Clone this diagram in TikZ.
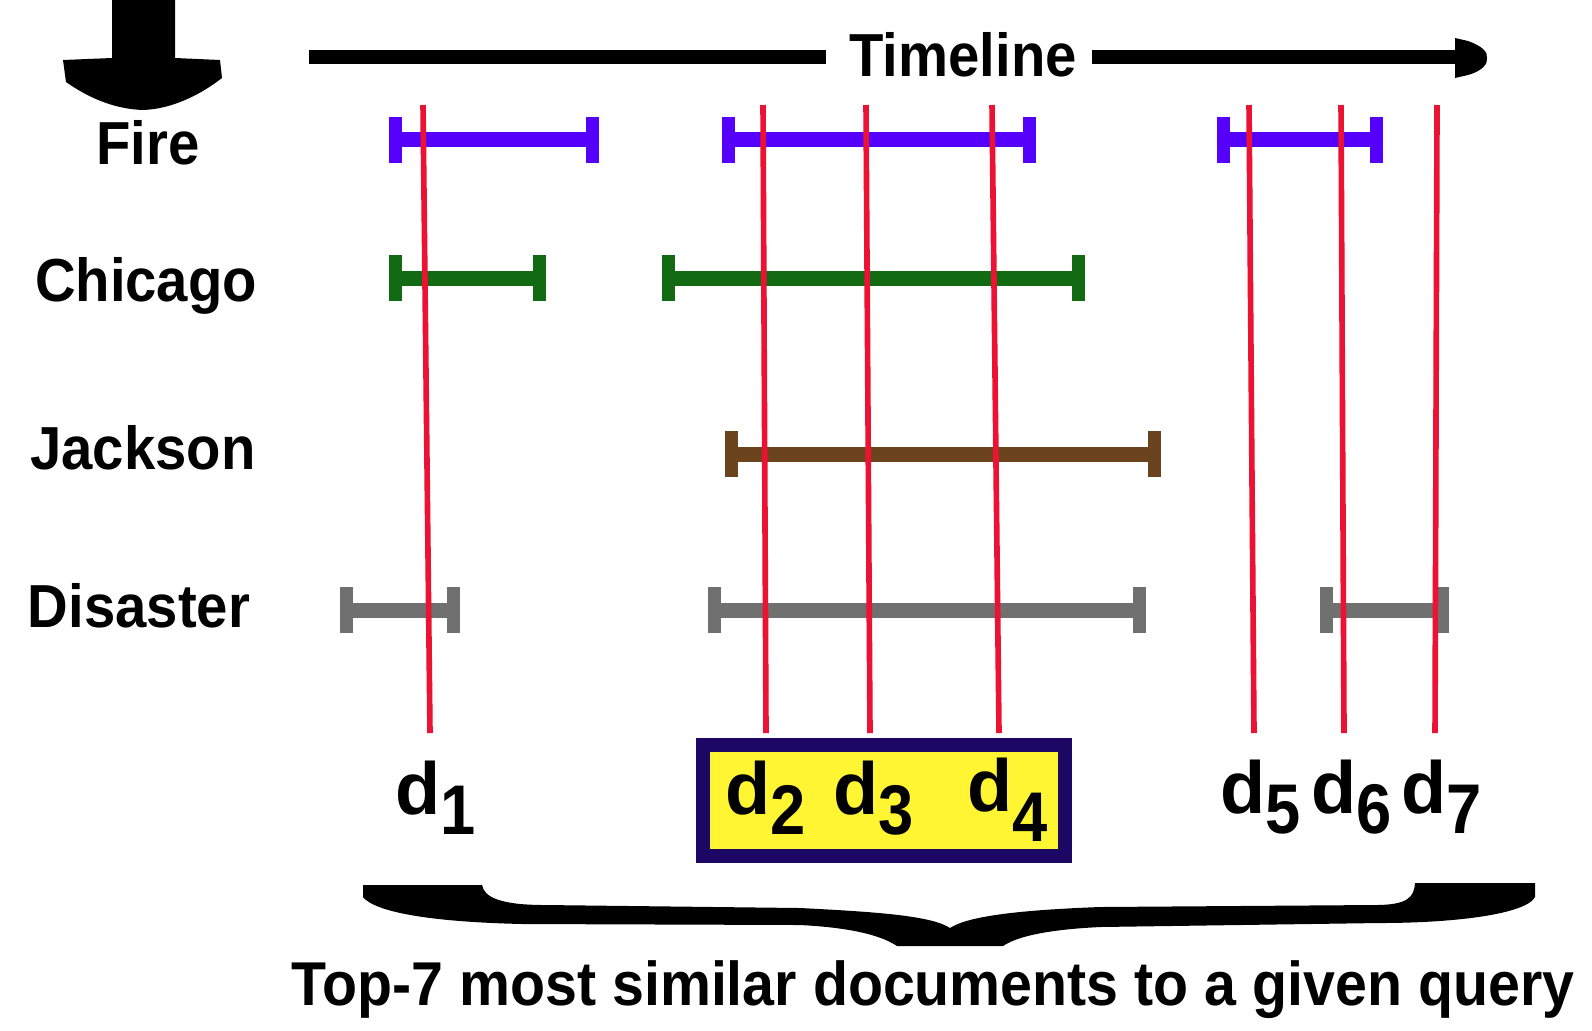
\documentclass[tikz,border=0pt]{standalone}
\usepackage{fontspec}
\setmainfont{Liberation Sans}
\definecolor{SpanBlue}{RGB}{85,0,250}
\definecolor{SpanGreen}{RGB}{18,106,18}
\definecolor{SpanBrown}{RGB}{107,68,30}
\definecolor{SpanGray}{RGB}{112,112,112}
\definecolor{DocRed}{RGB}{235,18,52}
\definecolor{BoxNavy}{RGB}{28,8,100}
\definecolor{BoxYellow}{RGB}{255,245,50}
% one time span: colour, left x, right x, row y
\newcommand{\tspan}[4]{%
  \fill[#1] (#2,#4-7.5) rectangle (#3,#4+7.5);
  \fill[#1] (#2,#4-23) rectangle (#2+13,#4+23);
  \fill[#1] (#3-13,#4-23) rectangle (#3,#4+23);}
\newcommand{\dsub}[2][5.8pt]{d\raisebox{-#1}{\fontsize{20}{20}\selectfont\scalebox{0.9}[1]{#2}}}
\newcommand{\tall}[1]{\scalebox{1}[1.08]{#1}}

\begin{document}
\begin{tikzpicture}[x=0.01cm,y=-0.01cm,font=\bfseries\fontsize{16}{19}\selectfont,
  rowlabel/.style={anchor=base,inner sep=0pt},
  doclabel/.style={anchor=base west,inner sep=0pt,font=\bfseries\fontsize{21}{24}\selectfont},
  docline/.style={DocRed,line width=1.6pt},
  axis/.style={line width=3.7pt},
  hitbox/.style={draw=BoxNavy,fill=BoxYellow,line width=3.98pt,minimum width=3.62cm,minimum height=1.11cm,inner sep=0pt}]
  \useasboundingbox (0,0) rectangle (1592,1030);

  % rank arrow
  \fill (112,0) -- (175,0) -- (175,58) -- (220,60) -- (222,78)
    .. controls (200,95) and (172,109) .. (143,110)
    .. controls (112,109) and (86,96) .. (66,82) -- (63,60) -- (112,58) -- cycle;

  % timeline
  \node[anchor=base] (timeline) at (963,76) {\tall{Timeline}};
  \coordinate (tl) at (309,57);
  \coordinate (tr) at (1458,57);
  \draw[axis] (tl) -- (826,57);
  \draw[axis] (1092,57) -- (tr);
  \fill (1455,38) -- (1468,41) .. controls (1482,46) and (1488,52) .. (1487,58)
    .. controls (1488,64) and (1482,71) .. (1468,75) -- (1455,78) -- cycle;

  \node[rowlabel] (fire) at (148,164.5) {\tall{Fire}};
  \node[rowlabel] (chicago) at (146,301.5) {\tall{Chicago}};
  \node[rowlabel] (jackson) at (143,469) {\tall{Jackson}};
  \node[rowlabel] (disaster) at (139,627) {\tall{Disaster}};

  \tspan{SpanBlue}{389}{599}{139.5}
  \tspan{SpanBlue}{722}{1036}{139.5}
  \tspan{SpanBlue}{1217}{1383}{139.5}
  \tspan{SpanGreen}{389}{546}{278}
  \tspan{SpanGreen}{662}{1085}{278}
  \tspan{SpanBrown}{725}{1161}{454}
  \tspan{SpanGray}{340}{460}{610}
  \tspan{SpanGray}{708}{1146}{610}
  \tspan{SpanGray}{1320}{1449}{610}

  \foreach \i/\xt/\xb in {1/423/430,2/763/766,3/866/870,4/992/999,5/1249/1254,6/1341/1344,7/1437/1435}{
    \coordinate (top\i) at (\xt,105);
    \coordinate (bot\i) at (\xb,733);
    \draw[docline] (top\i) -- (bot\i);
  }

  \node[hitbox] (top3) at (884,800.5) {};
  \node[doclabel] (d1) at (395,814) {\dsub{1}};
  \node[doclabel] (d2) at (725,814) {\dsub{2}};
  \node[doclabel] (d3) at (833,814) {\dsub{3}};
  \node[doclabel] (d4) at (967,811) {\dsub[8.8pt]{4}};
  \node[doclabel] (d5) at (1220,813) {\dsub{5}};
  \node[doclabel] (d6) at (1311,813) {\dsub{6}};
  \node[doclabel] (d7) at (1401,813) {\dsub{7}};

  % brace under the documents
  \fill (363,885) -- (482,885) .. controls (484,897) and (500,905) .. (545,905)
    -- (800,908) .. controls (880,912) and (932,916) .. (950,928)
    .. controls (968,916) and (1020,910) .. (1100,907) -- (1375,905)
    .. controls (1408,905) and (1414,897) .. (1415,883) -- (1535,883) -- (1535,897)
    .. controls (1525,915) and (1450,923) .. (1380,923) -- (1100,927)
    .. controls (1040,930) and (1015,938) .. (1003,946) -- (897,946)
    .. controls (885,938) and (860,928) .. (800,925) -- (523,924)
    .. controls (430,922) and (375,912) .. (363,897) -- cycle;
  \node[anchor=base] (caption) at (933,1005) {\fontsize{16.3}{19}\selectfont\tall{Top-7 most similar documents to a given query}};
\end{tikzpicture}
\end{document}
